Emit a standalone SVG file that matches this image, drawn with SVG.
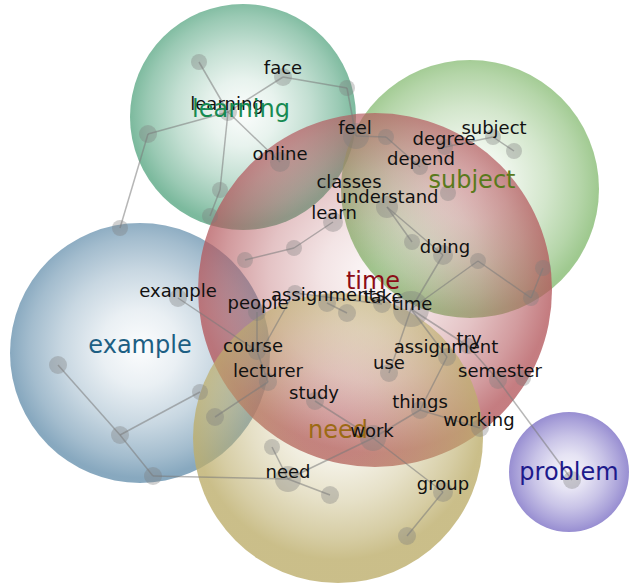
<svg xmlns="http://www.w3.org/2000/svg" width="629" height="587" viewBox="0 0 629 587">
  <defs>
    <!-- topic shading: clear in the middle, denser toward the rim -->
    <radialGradient id="g-learning" cx="50%" cy="48%" r="50%">
      <stop offset="0" stop-color="#57a682" stop-opacity="0.02"/>
      <stop offset="0.3" stop-color="#57a682" stop-opacity="0.14"/>
      <stop offset="0.6" stop-color="#57a682" stop-opacity="0.36"/>
      <stop offset="0.85" stop-color="#57a682" stop-opacity="0.6"/>
      <stop offset="1" stop-color="#57a682" stop-opacity="0.78"/>
    </radialGradient>
    <radialGradient id="g-subject" cx="50%" cy="48%" r="50%">
      <stop offset="0" stop-color="#84ba70" stop-opacity="0.02"/>
      <stop offset="0.3" stop-color="#84ba70" stop-opacity="0.14"/>
      <stop offset="0.6" stop-color="#84ba70" stop-opacity="0.36"/>
      <stop offset="0.85" stop-color="#84ba70" stop-opacity="0.6"/>
      <stop offset="1" stop-color="#84ba70" stop-opacity="0.78"/>
    </radialGradient>
    <radialGradient id="g-time" cx="50%" cy="46%" r="50%">
      <stop offset="0" stop-color="#b4585d" stop-opacity="0.04"/>
      <stop offset="0.3" stop-color="#b4585d" stop-opacity="0.16"/>
      <stop offset="0.6" stop-color="#b4585d" stop-opacity="0.36"/>
      <stop offset="0.85" stop-color="#b4585d" stop-opacity="0.6"/>
      <stop offset="1" stop-color="#b4585d" stop-opacity="0.78"/>
    </radialGradient>
    <radialGradient id="g-example" cx="50%" cy="48%" r="50%">
      <stop offset="0" stop-color="#6690ad" stop-opacity="0.02"/>
      <stop offset="0.3" stop-color="#6690ad" stop-opacity="0.14"/>
      <stop offset="0.6" stop-color="#6690ad" stop-opacity="0.36"/>
      <stop offset="0.85" stop-color="#6690ad" stop-opacity="0.6"/>
      <stop offset="1" stop-color="#6690ad" stop-opacity="0.78"/>
    </radialGradient>
    <radialGradient id="g-need" cx="50%" cy="42%" r="50%">
      <stop offset="0" stop-color="#bdae6c" stop-opacity="0.03"/>
      <stop offset="0.3" stop-color="#bdae6c" stop-opacity="0.15"/>
      <stop offset="0.6" stop-color="#bdae6c" stop-opacity="0.38"/>
      <stop offset="0.85" stop-color="#bdae6c" stop-opacity="0.62"/>
      <stop offset="1" stop-color="#bdae6c" stop-opacity="0.8"/>
    </radialGradient>
    <radialGradient id="g-problem" cx="50%" cy="50%" r="50%">
      <stop offset="0" stop-color="#7e72c6" stop-opacity="0.08"/>
      <stop offset="0.3" stop-color="#7e72c6" stop-opacity="0.2"/>
      <stop offset="0.6" stop-color="#7e72c6" stop-opacity="0.42"/>
      <stop offset="0.85" stop-color="#7e72c6" stop-opacity="0.65"/>
      <stop offset="1" stop-color="#7e72c6" stop-opacity="0.8"/>
    </radialGradient>
  </defs>
  <style>
    .edge { stroke: #7a7a7a; stroke-opacity: 0.55; stroke-width: 1.5; fill: none; }
    .dot { fill: #7d7d7d; fill-opacity: 0.36; }
    .word { font-family: "DejaVu Sans", "Liberation Sans", sans-serif; font-size: 18px; fill: #111; text-anchor: middle; }
    .title { font-family: "DejaVu Sans", "Liberation Sans", sans-serif; font-size: 24px; text-anchor: middle; }
  </style>

  <!-- topic circles, back to front -->
  <g id="topics">
    <circle id="topic-learning" cx="243" cy="117" r="113" fill="url(#g-learning)"/>
    <circle id="topic-example" cx="140" cy="353" r="130" fill="url(#g-example)"/>
    <circle id="topic-subject" cx="470" cy="189" r="129" fill="url(#g-subject)"/>
    <circle id="topic-time" cx="375" cy="290" r="177" fill="url(#g-time)"/>
    <circle id="topic-need" cx="338" cy="438" r="145" fill="url(#g-need)"/>
    <circle id="topic-problem" cx="569" cy="472" r="60" fill="url(#g-problem)"/>
  </g>

  <!-- word connectors -->
  <g id="connectors">
    <line class="edge" x1="228" y1="112" x2="199" y2="62"/>
    <line class="edge" x1="228" y1="112" x2="283" y2="77"/>
    <line class="edge" x1="283" y1="77" x2="347" y2="88"/>
    <line class="edge" x1="228" y1="112" x2="148" y2="134"/>
    <line class="edge" x1="228" y1="112" x2="280" y2="162"/>
    <line class="edge" x1="228" y1="112" x2="220" y2="190"/>
    <line class="edge" x1="220" y1="190" x2="210" y2="216"/>
    <line class="edge" x1="148" y1="134" x2="120" y2="228"/>
    <line class="edge" x1="347" y1="88" x2="356" y2="136"/>
    <line class="edge" x1="356" y1="136" x2="386" y2="137"/>
    <line class="edge" x1="386" y1="137" x2="420" y2="167"/>
    <line class="edge" x1="445" y1="147" x2="493" y2="137"/>
    <line class="edge" x1="493" y1="137" x2="514" y2="151"/>
    <line class="edge" x1="245" y1="260" x2="294" y2="248"/>
    <line class="edge" x1="294" y1="248" x2="333" y2="222"/>
    <line class="edge" x1="387" y1="207" x2="412" y2="242"/>
    <line class="edge" x1="387" y1="207" x2="443" y2="255"/>
    <line class="edge" x1="443" y1="255" x2="411" y2="309"/>
    <line class="edge" x1="411" y1="309" x2="478" y2="261"/>
    <line class="edge" x1="478" y1="261" x2="531" y2="298"/>
    <line class="edge" x1="531" y1="298" x2="543" y2="268"/>
    <line class="edge" x1="295" y1="293" x2="382" y2="304"/>
    <line class="edge" x1="327" y1="303" x2="347" y2="313"/>
    <line class="edge" x1="178" y1="298" x2="257" y2="351"/>
    <line class="edge" x1="257" y1="312" x2="257" y2="351"/>
    <line class="edge" x1="290" y1="300" x2="262" y2="350"/>
    <line class="edge" x1="257" y1="351" x2="268" y2="382"/>
    <line class="edge" x1="268" y1="382" x2="215" y2="417"/>
    <line class="edge" x1="411" y1="309" x2="389" y2="373"/>
    <line class="edge" x1="411" y1="309" x2="447" y2="357"/>
    <line class="edge" x1="411" y1="309" x2="468" y2="346"/>
    <line class="edge" x1="447" y1="357" x2="420" y2="410"/>
    <line class="edge" x1="420" y1="410" x2="373" y2="438"/>
    <line class="edge" x1="420" y1="410" x2="480" y2="428"/>
    <line class="edge" x1="468" y1="346" x2="498" y2="380"/>
    <line class="edge" x1="498" y1="380" x2="572" y2="480"/>
    <line class="edge" x1="315" y1="401" x2="373" y2="438"/>
    <line class="edge" x1="373" y1="438" x2="288" y2="479"/>
    <line class="edge" x1="373" y1="438" x2="443" y2="492"/>
    <line class="edge" x1="443" y1="492" x2="407" y2="536"/>
    <line class="edge" x1="288" y1="479" x2="330" y2="495"/>
    <line class="edge" x1="288" y1="479" x2="272" y2="447"/>
    <line class="edge" x1="153" y1="476" x2="288" y2="479"/>
    <line class="edge" x1="58" y1="365" x2="120" y2="435"/>
    <line class="edge" x1="120" y1="435" x2="153" y2="476"/>
    <line class="edge" x1="120" y1="435" x2="200" y2="392"/>
  </g>

  <!-- learning -->
  <g id="node-learning-group">
    <circle class="dot" cx="199" cy="62" r="8"/>
    <circle class="dot" cx="347" cy="88" r="8"/>
    <circle class="dot" cx="148" cy="134" r="9"/>
    <circle class="dot" cx="220" cy="190" r="8"/>
    <circle class="dot" cx="210" cy="216" r="8"/>
    <circle class="dot" cx="120" cy="228" r="8"/>
  </g>
  <g id="node-face"><circle class="dot" cx="283" cy="77" r="9"/><text class="word" x="283" y="74">face</text></g>
  <g id="node-learning"><circle class="dot" cx="228" cy="112" r="9"/><text class="word" x="227" y="110">learning</text></g>
  <g id="node-online"><circle class="dot" cx="280" cy="162" r="10"/><text class="word" x="280" y="160">online</text></g>

  <!-- subject -->
  <g id="node-subject-group">
    <circle class="dot" cx="386" cy="137" r="8"/>
    <circle class="dot" cx="514" cy="151" r="8"/>
    <circle class="dot" cx="448" cy="193" r="8"/>
    <circle class="dot" cx="412" cy="242" r="8"/>
    <circle class="dot" cx="478" cy="261" r="8"/>
    <circle class="dot" cx="543" cy="268" r="8"/>
    <circle class="dot" cx="531" cy="298" r="8"/>
  </g>
  <g id="node-feel"><circle class="dot" cx="356" cy="136" r="13"/><text class="word" x="355" y="134">feel</text></g>
  <g id="node-degree"><circle class="dot" cx="445" cy="147" r="8"/><text class="word" x="444" y="145">degree</text></g>
  <g id="node-subject"><circle class="dot" cx="493" cy="137" r="8"/><text class="word" x="494" y="134">subject</text></g>
  <g id="node-depend"><circle class="dot" cx="420" cy="167" r="8"/><text class="word" x="421" y="165">depend</text></g>
  <g id="node-classes"><text class="word" x="349" y="188">classes</text></g>
  <g id="node-understand"><circle class="dot" cx="387" cy="207" r="11"/><text class="word" x="387" y="203">understand</text></g>
  <g id="node-learn"><circle class="dot" cx="333" cy="222" r="10"/><text class="word" x="334" y="219">learn</text></g>
  <g id="node-doing"><circle class="dot" cx="443" cy="255" r="10"/><text class="word" x="445" y="253">doing</text></g>

  <!-- time -->
  <g id="node-time-group">
    <circle class="dot" cx="245" cy="260" r="8"/>
    <circle class="dot" cx="294" cy="248" r="8"/>
    <circle class="dot" cx="295" cy="293" r="8"/>
    <circle class="dot" cx="347" cy="313" r="9"/>
    <circle class="dot" cx="523" cy="378" r="8"/>
  </g>
  <g id="node-assignments"><circle class="dot" cx="327" cy="303" r="9"/><text class="word" x="328" y="301">assignments</text></g>
  <g id="node-people"><circle class="dot" cx="257" cy="312" r="9"/><text class="word" x="258" y="309">people</text></g>
  <g id="node-take"><circle class="dot" cx="382" cy="304" r="9"/><text class="word" x="383" y="303">take</text></g>
  <g id="node-time"><circle class="dot" cx="411" cy="309" r="18"/><text class="word" x="412" y="310">time</text></g>
  <g id="node-example"><circle class="dot" cx="178" cy="298" r="9"/><text class="word" x="178" y="297">example</text></g>
  <g id="node-course"><circle class="dot" cx="257" cy="351" r="9"/><text class="word" x="253" y="352">course</text></g>
  <g id="node-lecturer"><circle class="dot" cx="268" cy="382" r="9"/><text class="word" x="268" y="377">lecturer</text></g>
  <g id="node-try"><circle class="dot" cx="468" cy="346" r="8"/><text class="word" x="469" y="345">try</text></g>
  <g id="node-assignment"><circle class="dot" cx="447" cy="357" r="9"/><text class="word" x="446" y="353">assignment</text></g>
  <g id="node-use"><circle class="dot" cx="389" cy="373" r="9"/><text class="word" x="389" y="369">use</text></g>
  <g id="node-semester"><circle class="dot" cx="498" cy="380" r="9"/><text class="word" x="500" y="377">semester</text></g>
  <g id="node-study"><circle class="dot" cx="315" cy="401" r="9"/><text class="word" x="314" y="399">study</text></g>
  <g id="node-things"><circle class="dot" cx="420" cy="410" r="9"/><text class="word" x="420" y="408">things</text></g>
  <g id="node-working"><circle class="dot" cx="480" cy="428" r="9"/><text class="word" x="479" y="426">working</text></g>

  <!-- example -->
  <g id="node-example-group">
    <circle class="dot" cx="200" cy="392" r="8"/>
    <circle class="dot" cx="215" cy="417" r="9"/>
    <circle class="dot" cx="58" cy="365" r="9"/>
    <circle class="dot" cx="120" cy="435" r="9"/>
    <circle class="dot" cx="153" cy="476" r="9"/>
  </g>

  <!-- need -->
  <g id="node-need-group">
    <circle class="dot" cx="272" cy="447" r="8"/>
    <circle class="dot" cx="330" cy="495" r="9"/>
    <circle class="dot" cx="407" cy="536" r="9"/>
  </g>
  <g id="node-work"><circle class="dot" cx="373" cy="438" r="13"/></g>
  <g id="node-need"><circle class="dot" cx="288" cy="479" r="13"/><text class="word" x="288" y="478">need</text></g>
  <g id="node-group"><circle class="dot" cx="443" cy="492" r="10"/><text class="word" x="443" y="490">group</text></g>

  <!-- problem -->
  <g id="node-problem"><circle class="dot" cx="572" cy="480" r="9"/></g>

  <!-- topic titles -->
  <g id="titles">
    <text class="title" x="241" y="117" fill="#178a52">learning</text>
    <text class="title" x="472" y="188" fill="#5a7a1c">subject</text>
    <text class="title" x="373" y="289" fill="#8c0c16">time</text>
    <text class="title" x="140" y="353" fill="#1d5f83">example</text>
    <text class="title" x="338" y="438" fill="#9c6a14">need</text>
    <text class="title" x="569" y="480" fill="#1d1a8c">problem</text>
  </g>
  <text class="word" x="372" y="437">work</text>
</svg>
